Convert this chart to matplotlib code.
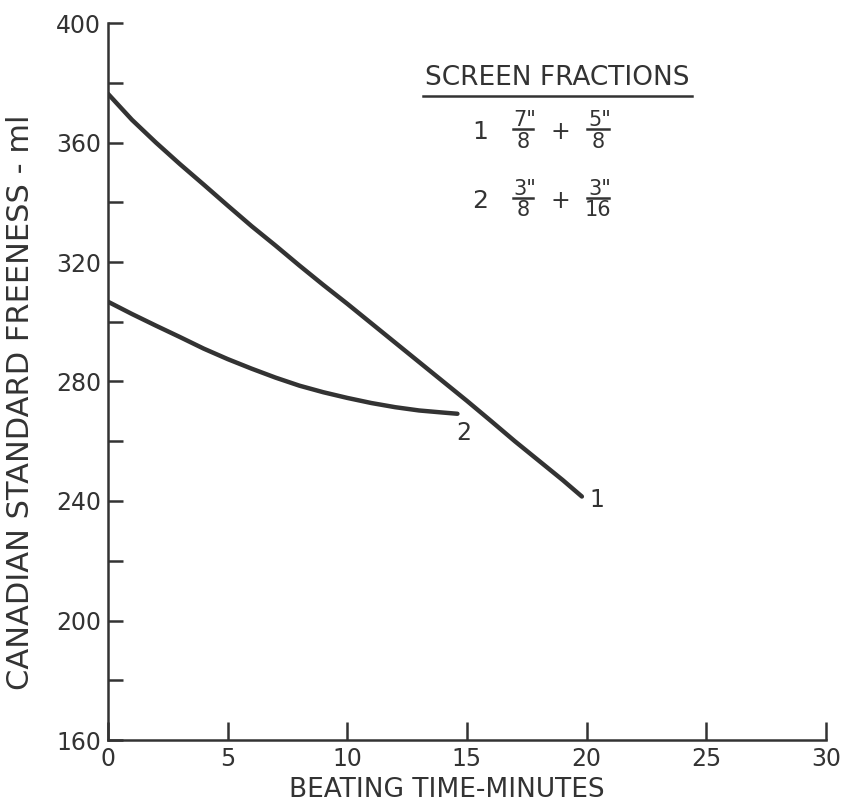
import matplotlib
matplotlib.use("Agg")
import matplotlib.pyplot as plt
from matplotlib.lines import Line2D

# ---- data ----
x1 = [0, 1, 2, 3, 4, 5, 6, 7, 8, 9, 10, 11, 12, 13, 14, 15, 16, 17, 18, 19, 19.8]
y1 = [376.3, 367.6, 360.0, 352.8, 345.9, 338.9, 332.0, 325.5, 318.8, 312.3, 306.0,
      299.5, 293.0, 286.5, 280.0, 273.5, 266.8, 260.0, 253.5, 247.0, 241.5]
x2 = [0, 1, 2, 3, 4, 5, 6, 7, 8, 9, 10, 11, 12, 13, 14, 14.6]
y2 = [306.7, 302.6, 298.7, 294.9, 291.0, 287.5, 284.3, 281.3, 278.6, 276.4, 274.5,
      272.8, 271.4, 270.3, 269.6, 269.2]
curve_labels = ["1", "2"]
xticks = [0, 5, 10, 15, 20, 25, 30]
yticks_major = [160, 200, 240, 280, 320, 360, 400]
yticks_minor = [180, 220, 260, 300, 340, 380]
legend_title = "SCREEN FRACTIONS"
legend_rows = [("1", ('7"', "8"), ('5"', "8")),
               ("2", ('3"', "8"), ('3"', "16"))]

INK = "#333333"
W, H = 843, 805
plt.rcParams['font.family'] = ['DejaVu Sans']
fig = plt.figure(figsize=(W / 100, H / 100), dpi=100)

def fx(px):
    return px / W

def fy(py):
    return 1 - py / H

ax = fig.add_axes([fx(108), fy(740), fx(826) - fx(108), fy(23) - fy(740)])
ax.set_xlim(0, 30)
ax.set_ylim(160, 400)

ax.plot(x1, y1, color=INK, lw=3.2, solid_capstyle='round', solid_joinstyle='round')
ax.plot(x2, y2, color=INK, lw=3.2, solid_capstyle='round', solid_joinstyle='round')
ax.text(x1[-1] + 0.3, y1[-1] - 1, curve_labels[0], color=INK, fontsize=17,
        ha='left', va='center')
ax.text(x2[-1] + 0.25, y2[-1] - 6.5, curve_labels[1], color=INK, fontsize=17,
        ha='center', va='center')

for s in ['top', 'right']:
    ax.spines[s].set_visible(False)
for s in ['left', 'bottom']:
    ax.spines[s].set_linewidth(1.8)
    ax.spines[s].set_color(INK)

ax.set_xticks(xticks)
ax.set_xticklabels([str(t) for t in xticks])
ax.set_yticks(yticks_major)
ax.set_yticklabels([str(t) for t in yticks_major])
ax.set_yticks(yticks_minor, minor=True)
ax.tick_params(axis='both', which='both', direction='in', colors=INK,
               width=1.8, labelsize=17, labelcolor=INK)
ax.tick_params(axis='x', which='major', length=13, pad=5)
ax.tick_params(axis='y', which='both', length=11, pad=5)

ax.set_xlabel("BEATING TIME-MINUTES", fontsize=19, color=INK)
ax.set_ylabel("CANADIAN STANDARD FREENESS - ml", fontsize=22, color=INK)
ax.xaxis.set_label_coords((447 - 108) / 718, (740 - 790) / 717)
ax.yaxis.set_label_coords((21 - 108) / 718, (740 - 402) / 717)
ax.xaxis.label.set_va('center')
ax.yaxis.label.set_va('center')

# ---- legend block ----
fig.text(fx(557), fy(78), legend_title, fontsize=19, color=INK, ha='center', va='center')
fig.add_artist(Line2D([fx(423), fx(692)], [fy(96), fy(96)], color=INK, lw=1.8))

def fraction(cx, ybar, num, den, half):
    fig.text(fx(cx + 2), fy(ybar - 9), num, fontsize=15, color=INK, ha='center', va='center')
    fig.text(fx(cx), fy(ybar + 12.5), den, fontsize=15, color=INK, ha='center', va='center')
    fig.add_artist(Line2D([fx(cx - half), fx(cx + half)], [fy(ybar), fy(ybar)], color=INK, lw=1.8))

rows_y = [129, 198]
for (lab, f1, f2), yb in zip(legend_rows, rows_y):
    fig.text(fx(480), fy(yb + 3), lab, fontsize=18, color=INK, ha='center', va='center')
    fraction(523, yb, f1[0], f1[1], 10)
    fig.text(fx(560), fy(yb + 3), "+", fontsize=17, color=INK, ha='center', va='center')
    fraction(598, yb, f2[0], f2[1], 11)

fig.savefig("out.png", dpi=100)
